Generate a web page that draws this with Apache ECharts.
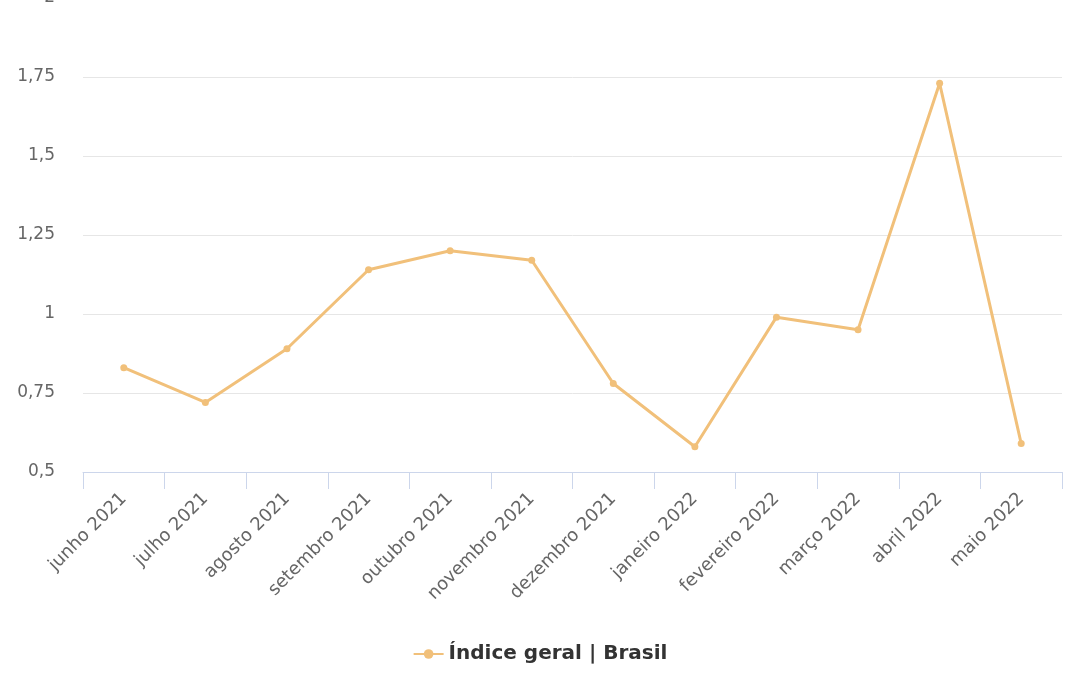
<!DOCTYPE html>
<html>
<head>
<meta charset="utf-8">
<script src="https://cdn.jsdelivr.net/npm/echarts@6/dist/echarts.min.js"></script>
<style>
  html, body { margin: 0; padding: 0; background: #fff; }
  #chart { width: 1080px; height: 675px; }
</style>
</head>
<body>
<div id="chart"></div>
<script>
const meses = ['junho 2021', 'julho 2021', 'agosto 2021', 'setembro 2021', 'outubro 2021', 'novembro 2021',
  'dezembro 2021', 'janeiro 2022', 'fevereiro 2022', 'março 2022', 'abril 2022', 'maio 2022']
const indiceGeral = [0.83, 0.72, 0.89, 1.14, 1.20, 1.17, 0.78, 0.58, 0.99, 0.95, 1.73, 0.59]
const serieNome = 'Índice geral | Brasil'

;(function () {
  const chart = echarts.init(document.getElementById('chart'))
  const cor = '#f1c07a'
  const fonte = 'DejaVu Sans'
  const option = {
    animation: false,
    textStyle: { fontFamily: fonte },
    grid: { left: 83, right: 18, top: -2, bottom: 203, containLabel: false, outerBoundsMode: 'none' },
    legend: {
      bottom: 6,
      left: 'center',
      itemWidth: 30,
      itemHeight: 12,
      itemGap: 10,
      textStyle: { fontSize: 20, fontWeight: 'bold', color: '#333', fontFamily: fonte },
      data: [serieNome]
    },
    xAxis: {
      type: 'category',
      data: meses,
      boundaryGap: true,
      axisLine: { lineStyle: { color: '#ccd6eb', width: 1 } },
      axisTick: { show: true, length: 17, lineStyle: { color: '#ccd6eb' } },
      axisLabel: { rotate: 45, margin: 24, fontSize: 18, color: '#666', interval: 0, fontFamily: fonte }
    },
    yAxis: {
      type: 'value',
      min: 0.5,
      max: 2,
      interval: 0.25,
      axisLine: { show: false },
      axisTick: { show: false },
      splitLine: { lineStyle: { color: '#e6e6e6', width: 1 } },
      axisLabel: {
        margin: 28,
        fontSize: 17,
        color: '#666',
        fontFamily: fonte,
        formatter: v => String(+v.toFixed(2)).replace('.', ',')
      }
    },
    series: [{
      name: serieNome,
      type: 'line',
      data: indiceGeral,
      symbol: 'circle',
      symbolSize: 7,
      lineStyle: { color: cor, width: 3 },
      itemStyle: { color: cor }
    }]
  }
  chart.setOption(option)
})()
</script>
</body>
</html>
